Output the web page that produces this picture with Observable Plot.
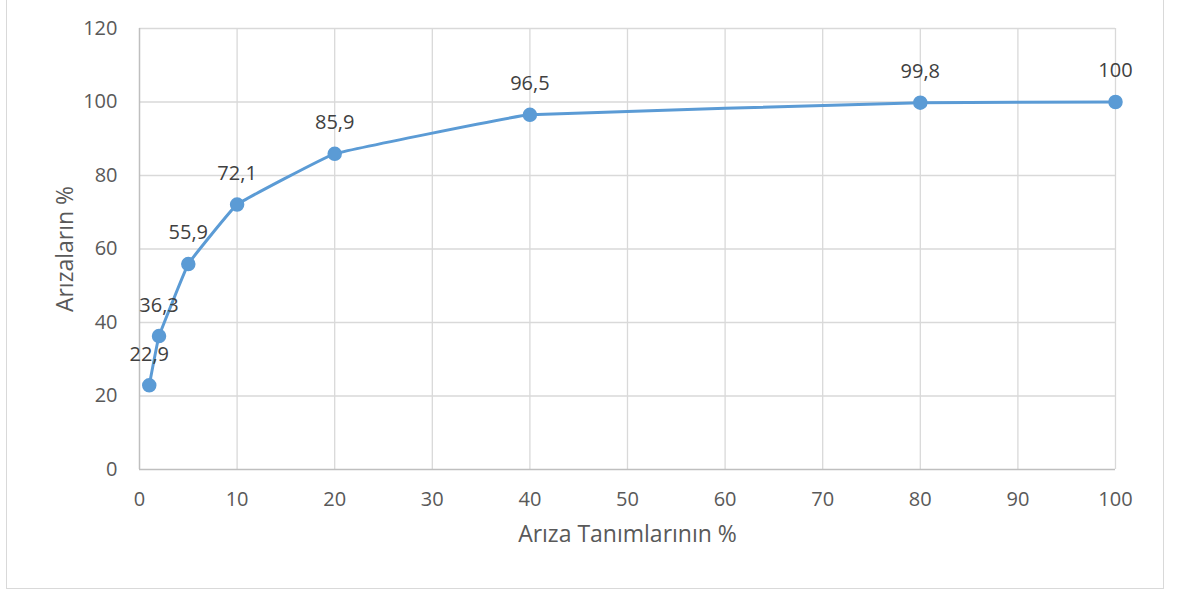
<!DOCTYPE html>
<html>
<head>
<meta charset="utf-8">
<script src="https://cdn.jsdelivr.net/npm/d3@7"></script>
<script src="https://cdn.jsdelivr.net/npm/@observablehq/plot@0.6"></script>
<style>
  html, body { margin: 0; padding: 0; background: #fff; }
  #wrap { position: relative; width: 1179px; height: 591px; overflow: hidden; }
  #border { position: absolute; left: 6px; top: -2px; width: 1158px; height: 591px; border: 1.5px solid #d9d9d9; box-sizing: border-box; pointer-events: none; }
</style>
</head>
<body>
<div id="wrap"><div id="border"></div></div>
<script>
const tanimPct = [1, 2, 5, 10, 20, 40, 80, 100];
const arizaPct = [22.9, 36.3, 55.9, 72.1, 85.9, 96.5, 99.8, 100];
const labels = ["22,9", "36,3", "55,9", "72,1", "85,9", "96,5", "99,8", "100"];
const xTicks = [0, 10, 20, 30, 40, 50, 60, 70, 80, 90, 100];
const yTicks = [0, 20, 40, 60, 80, 100, 120];
const xTitle = "Arıza Tanımlarının %";
const yTitle = "Arızaların %";

const data = tanimPct.map((x, i) => ({x, y: arizaPct[i], label: labels[i]}));
const font = "'Open Sans', 'Liberation Sans', sans-serif";
const blue = "#5b9bd5";

const chart = Plot.plot({
  width: 1179,
  height: 591,
  marginLeft: 139,
  marginRight: 64,
  marginTop: 28,
  marginBottom: 122,
  style: {fontFamily: font, fontSize: "20px", color: "#595959", background: "transparent"},
  x: {domain: [0, 100], ticks: xTicks, label: null},
  y: {domain: [0, 120], ticks: yTicks, label: null},
  marks: [
    Plot.gridX(xTicks.filter(d => d > 0), {stroke: "#d9d9d9", strokeOpacity: 1, strokeWidth: 1.3}),
    Plot.gridY(yTicks.filter(d => d > 0), {stroke: "#d9d9d9", strokeOpacity: 1, strokeWidth: 1.3}),
    Plot.ruleX([0], {stroke: "#bfbfbf", strokeWidth: 1.5}),
    Plot.ruleY([0], {stroke: "#bfbfbf", strokeWidth: 1.5}),
    Plot.axisX({ticks: xTicks, tickSize: 0, tickPadding: 22, fill: "#595959", fontSize: 20, label: null}),
    Plot.axisY({ticks: yTicks, tickSize: 0, tickPadding: 22, fill: "#595959", fontSize: 20, label: null}),
    Plot.text([xTitle], {frameAnchor: "bottom", dy: 72, fill: "#595959", fontSize: 23}),
    Plot.text([yTitle], {frameAnchor: "left", textAnchor: "middle", dx: -74, rotate: -90, fill: "#595959", fontSize: 23}),
    Plot.line(data, {x: "x", y: "y", stroke: blue, strokeWidth: 3, curve: "cardinal", tension: 0.8}),
    Plot.dot(data, {x: "x", y: "y", r: 6.5, fill: blue, stroke: blue}),
    Plot.text(data, {x: "x", y: "y", text: "label", dy: -31, fill: "#404040", fontSize: 20})
  ]
});
document.getElementById("wrap").appendChild(chart);
</script>
</body>
</html>
